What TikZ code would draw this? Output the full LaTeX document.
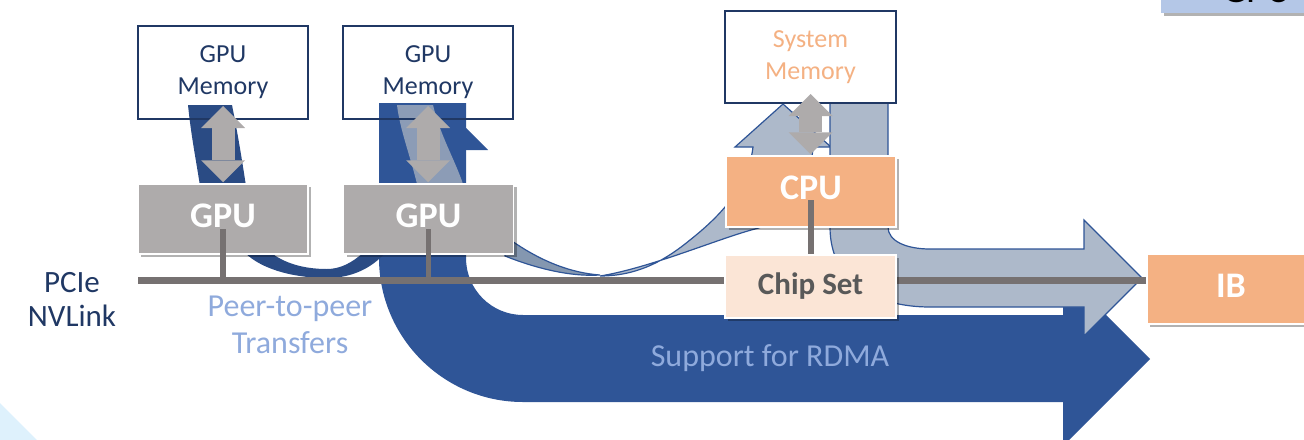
\documentclass[tikz,border=0pt]{standalone}
\usepackage{fontspec}
\setmainfont{Carlito}
\usetikzlibrary{arrows.meta,shadows}

\definecolor{navy}{HTML}{203864}
\definecolor{rdma}{HTML}{2F5597}
\definecolor{rdmadark}{HTML}{2A4B84}
\definecolor{ribbon}{HTML}{ADB9CA}
\definecolor{ribbonback}{HTML}{8497B0}
\definecolor{overlayband}{HTML}{8C9CB6}
\definecolor{gpugray}{HTML}{AEABAB}
\definecolor{busgray}{HTML}{767171}
\definecolor{cpuorange}{HTML}{F4B183}
\definecolor{chippeach}{HTML}{FBE5D6}
\definecolor{chiptext}{HTML}{595959}
\definecolor{labelblue}{HTML}{8FAADC}
\definecolor{tagblue}{HTML}{B4C7E7}
\definecolor{cornerblue}{HTML}{DEF1FC}

\tikzset{
  membox/.style={draw=navy, line width=1pt, inner sep=0pt, align=center,
    minimum width=85pt, minimum height=46.5pt, font=\fontsize{13}{16}\selectfont},
  hwbox/.style={draw=white, line width=0.75pt, inner sep=0pt,
    drop shadow={shadow xshift=1.6pt, shadow yshift=-1.6pt, opacity=0.3, fill=black}},
  bigbold/.style={text=white, font=\bfseries\fontsize{18}{20}\selectfont, text depth=3.5pt},
  gpubox/.style={hwbox, bigbold, fill=gpugray, minimum width=85pt, minimum height=35pt},
  bus/.style={draw=busgray, line width=3.5pt},
  link/.style={draw=busgray, line width=2.75pt},
  dbl/.style={draw=gpugray, line width=11.5pt,
    {Triangle[width=22pt,length=11pt,line width=0pt]}-{Triangle[width=22pt,length=11pt,line width=0pt]}},
  ribbonedge/.style={draw=rdma, line width=0.6pt},
  caption/.style={align=center, font=\fontsize{16}{18.5}\selectfont}
}

\begin{document}
\begin{tikzpicture}[x=0.5pt,y=-0.5pt]
\useasboundingbox (0,0) rectangle (1304,439);
\clip (0,0) rectangle (1304,439);

% pale corner wedge
\fill[cornerblue] (0,403) -- (40,443) -- (0,443) -- cycle;

% label tab at the top right
\node[hwbox, draw=none, fill=tagblue, minimum width=100pt, minimum height=38pt] (tag) at (1261,-25) {};
\node[anchor=base, font=\fontsize{19.5}{22}\selectfont] (tagtext) at (1257,2.5) {GPU};

% RDMA path: from GPU memory down and across to the network adapter
\fill[rdma] (379,103) -- (466,103) -- (466,258)
  .. controls (466,289.5) and (491.5,315) .. (523,315) -- (1063,315)
  -- (1063,272) -- (1150,359) -- (1063,446) -- (1063,402) -- (523,402)
  .. controls (443.5,402) and (379,337.5) .. (379,258) -- cycle;

% peer-to-peer ribbon between the two GPUs
\fill[rdmadark] (188,105) -- (232,105) .. controls (238,135) and (242,160) .. (246,186)
  -- (200,186) .. controls (196,160) and (191,135) .. (188,105) -- cycle;
\fill[rdmadark] (244,252) .. controls (264,272) and (300,278) .. (327,278)
  .. controls (352,278) and (372,268) .. (386,252) -- (364,252)
  .. controls (352,263) and (340,269) .. (327,269)
  .. controls (303,269) and (284,263) .. (270,252) -- cycle;
\fill[rdma] (466,128) -- (488,150) -- (466,150) -- cycle;
\fill[overlayband] (397,105) -- (433,105) .. controls (440,135) and (455,160) .. (463,184)
  -- (417,184) .. controls (410,155) and (400,130) .. (397,105) -- cycle;

% staging ribbon: GPU to system memory
\filldraw[ribbonedge, fill=ribbonback] (505,236) .. controls (540,262) and (572,273) .. (600,275)
  .. controls (570,277) and (535,268) .. (505,256) -- cycle;
\filldraw[ribbonedge, fill=ribbon] (600,276) .. controls (640,276) and (668,258) .. (690,240)
  .. controls (715,220) and (748,190) .. (753,147) -- (735,147) -- (783,104) -- (831,147) -- (813,147)
  .. controls (810,190) and (790,220) .. (755,229)
  .. controls (720,238) and (650,268) .. (600,276) -- cycle;

% staging ribbon: system memory to the network adapter
\filldraw[ribbonedge, fill=ribbon] (830,103) -- (888,103) -- (888,227)
  .. controls (888,241) and (906,249) .. (930,249) -- (1084,249) -- (1084,220) -- (1142,278)
  -- (1084,336) -- (1084,307) -- (930,307)
  .. controls (875,307) and (830,282) .. (830,227) -- cycle;

% memories
\node[membox, text=navy] (mem1) at (223,72.5) {GPU\\Memory};
\node[membox, text=navy] (mem2) at (428,72.5) {GPU\\Memory};
\node[membox, text=cpuorange, minimum width=85.5pt, minimum height=46pt] (sysmem) at (810.5,57) {System\\Memory};

% interconnect
\coordinate (busL) at (138,280);

% processing units
\node[gpubox] (gpu1) at (223,219) {GPU};
\node[gpubox] (gpu2) at (428.5,219) {GPU};
\node[hwbox, bigbold, fill=cpuorange, minimum width=85pt, minimum height=35.5pt] (cpu) at (811,191.5) {CPU};
\node[hwbox, bigbold, fill=cpuorange, minimum width=84pt, minimum height=35pt] (ib) at (1231,289) {IB};

\draw[bus] (busL) -- (busL -| ib.west);

\node[hwbox, fill=chippeach, text=chiptext, font=\bfseries\fontsize{15.5}{18}\selectfont,
  minimum width=85.5pt, minimum height=31.5pt] (chip) at (810.5,286.5) {Chip Set};

% links onto the bus
\draw[link] ([yshift=-5pt]gpu1.center) -- (gpu1.center |- busL);
\draw[link] ([yshift=-5pt]gpu2.center) -- (gpu2.center |- busL);
\draw[link] ([yshift=-4.25pt]cpu.center) -- (cpu.center |- chip.north);

% memory access arrows
\draw[dbl] ([yshift=7pt]mem1.south) -- ([yshift=0.5pt]mem1.south |- gpu1.north);
\draw[dbl] ([yshift=7pt]mem2.south) -- ([yshift=0.5pt]mem2.south |- gpu2.north);
\draw[dbl] ([yshift=5pt]sysmem.south) -- ([yshift=0.5pt]sysmem.south |- cpu.north);

% captions
\node[caption, text=navy, font=\fontsize{15.5}{17}\selectfont] (bustext) at (72,299.5) {PCIe\\NVLink};
\node[caption, text=labelblue] (p2p) at (290,324.5) {Peer-to-peer\\Transfers};
\node[caption, text=labelblue] (rdmatext) at (770,358) {Support for RDMA};
\end{tikzpicture}
\end{document}
